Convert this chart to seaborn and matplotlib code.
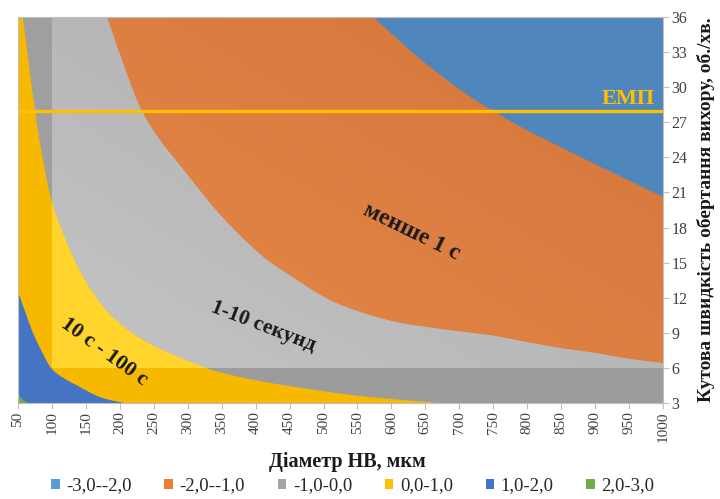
import numpy as np
import pandas as pd
import matplotlib
matplotlib.use("Agg")
import matplotlib.pyplot as plt
from matplotlib.colors import to_rgb
from matplotlib.patches import Polygon, Rectangle, Patch
import seaborn as sns

# Grid of the surface: particle diameter (um) and vortex angular speed (rev/min)
diameters = list(range(50, 1001, 50))
speeds = list(range(3, 37, 3))
x_labels = [str(d) for d in diameters]
y_labels = [str(s) for s in speeds]

# Contour boundaries between time bands (log10 of time), traced as (diameter, speed)
lvl_m2_x = [573, 605, 640, 675, 710, 748, 800, 848, 900, 950, 1000]
lvl_m2_y = [36.0, 34.3, 32.5, 30.9, 29.4, 28.0, 26.3, 24.9, 23.4, 22.0, 20.6]

lvl_m1_x = [181, 205, 232, 260, 290, 337, 362, 411, 461, 509, 558, 608, 657, 716,
            750, 800, 848, 897, 947, 1000]
lvl_m1_y = [36.0, 32.0, 28.0, 25.4, 23.2, 19.8, 18.2, 15.5, 13.5, 11.8, 10.7, 9.9, 9.45,
            9.0, 8.75, 8.2, 7.7, 7.3, 6.8, 6.4]

lvl_0_x = [57, 66, 75, 86, 100, 117, 135, 155, 185, 225, 260, 300, 337, 395, 455, 554, 671]
lvl_0_y = [36.0, 32.0, 28.0, 24.0, 20.2, 17.4, 15.0, 12.9, 10.6, 8.7, 7.6, 6.6, 5.8, 5.0,
           4.4, 3.6, 3.0]

lvl_1_x = [50, 60, 72, 86, 100, 118, 137, 171, 206]
lvl_1_y = [12.5, 10.9, 9.0, 7.3, 5.9, 5.1, 4.5, 3.5, 3.0]

lvl_2_x = [50, 55, 64]
lvl_2_y = [3.85, 3.4, 3.0]

band_labels = ["-3,0--2,0", "-2,0--1,0", "-1,0-0,0", "0,0-1,0", "1,0-2,0", "2,0-3,0"]
band_colors = ["#4F86BC", "#E07F3F", "#B4B4B4", "#F6B900", "#4674C5", "#6DAE47"]
legend_colors = ["#5B9BD5", "#ED7D31", "#A5A5A5", "#FFC000", "#4472C4", "#70AD47"]

emp_speed = 28

sns.set_theme(style="white")
plt.rcParams["font.family"] = ["Liberation Serif", "DejaVu Serif"]

fig = plt.figure(figsize=(7.2, 4.99), dpi=100)
ax = fig.add_axes([18 / 720, 1 - 403 / 499, 645 / 720, 386 / 499])

X0, X1 = diameters[0], diameters[-1]
Y0, Y1 = speeds[0], speeds[-1]
SX = 645.0 / (X1 - X0)   # px per diameter unit
SY = 386.0 / (Y1 - Y0)   # px per speed unit


def smooth(xs, ys, n=14):
    """Centripetal Catmull-Rom through the traced points (in screen proportions)."""
    p = np.column_stack([np.asarray(xs, float) * SX, np.asarray(ys, float) * SY])
    p = np.vstack([2 * p[0] - p[1], p, 2 * p[-1] - p[-2]])
    out = [p[1]]
    for i in range(1, len(p) - 2):
        p0, p1, p2, p3 = p[i - 1], p[i], p[i + 1], p[i + 2]
        t0 = 0.0
        t1 = t0 + np.linalg.norm(p1 - p0) ** 0.5
        t2 = t1 + np.linalg.norm(p2 - p1) ** 0.5
        t3 = t2 + np.linalg.norm(p3 - p2) ** 0.5
        for t in np.linspace(t1, t2, n)[1:]:
            a1 = (t1 - t) / (t1 - t0) * p0 + (t - t0) / (t1 - t0) * p1
            a2 = (t2 - t) / (t2 - t1) * p1 + (t - t1) / (t2 - t1) * p2
            a3 = (t3 - t) / (t3 - t2) * p2 + (t - t2) / (t3 - t2) * p3
            b1 = (t2 - t) / (t2 - t0) * a1 + (t - t0) / (t2 - t0) * a2
            b2 = (t3 - t) / (t3 - t1) * a2 + (t - t1) / (t3 - t1) * a3
            out.append((t2 - t) / (t2 - t1) * b1 + (t - t1) / (t2 - t1) * b2)
    out = np.array(out)
    return list(np.clip(out[:, 0] / SX, X0, X1)), list(np.clip(out[:, 1] / SY, Y0, Y1))


def region_below(xs, ys):
    sx, sy = smooth(xs, ys)
    pts = list(zip(sx, sy))
    if xs[-1] >= X1:
        pts.append((X1, Y0))
    pts.append((X0, Y0))
    if ys[0] >= Y1:
        pts.append((X0, Y1))
    return pts


def gradient(poly, c_a, c_b, z, wx=1.0, wy=1.0):
    """Linear colour ramp from the lower-left corner (c_a) to the upper-right (c_b)."""
    gx, gy = np.meshgrid(np.linspace(0, 1, 200), np.linspace(0, 1, 200))
    t = (wx * gx + wy * gy) / (wx + wy)
    ca, cb = np.array(to_rgb(c_a)), np.array(to_rgb(c_b))
    img = ca[None, None, :] * (1 - t[..., None]) + cb[None, None, :] * t[..., None]
    im = ax.imshow(img, extent=(X0, X1, Y0, Y1), origin="lower", aspect="auto",
                   zorder=z + 0.05, interpolation="bilinear")
    im.set_clip_path(poly)


def paint(pts, color, z, ramp=None, shades=()):
    poly = Polygon(pts, closed=True, facecolor=color, edgecolor="none", zorder=z)
    ax.add_patch(poly)
    if ramp is not None:
        gradient(poly, *ramp, z)
    for (rx0, ry0, rx1, ry1, c) in shades:
        r = Rectangle((rx0, ry0), rx1 - rx0, ry1 - ry0, facecolor=c,
                      edgecolor="none", zorder=z + 0.1)
        ax.add_patch(r)
        r.set_clip_path(poly)


# top band fills the whole area, each lower band is painted over it
ax.add_patch(Rectangle((X0, Y0), X1 - X0, Y1 - Y0, facecolor=band_colors[0],
                       edgecolor="none", zorder=1))

paint(region_below(lvl_m2_x, lvl_m2_y), band_colors[1], 2,
      ramp=("#EA8B4C", "#D3743A"))
paint(region_below(lvl_m1_x, lvl_m1_y), band_colors[2], 3,
      ramp=("#C6C6C6", "#ABABAB"),
      shades=[(X0, Y0, 100, Y1, "#9F9F9F"),
              (X0, Y0, X1, 6, "#9C9C9C")])
paint(region_below(lvl_0_x, lvl_0_y), band_colors[3], 4,
      shades=[(100, 6, X1, Y1, "#FFD42C")])
paint(region_below(lvl_1_x, lvl_1_y), band_colors[4], 5)
paint(region_below(lvl_2_x, lvl_2_y), band_colors[5], 6)

# electromagnetic field speed level
emp = pd.DataFrame({"d": [X0, X1], "w": [emp_speed, emp_speed]})
sns.lineplot(data=emp, x="d", y="w", color="#FFC000", linewidth=2.4, ax=ax, zorder=8)
ax.text(988, emp_speed + 0.6, "ЕМП", color="#FFC000", fontsize=16, fontweight="bold",
        ha="right", va="baseline", zorder=9)

# band annotations
ax.text(630, 17.6, "менше 1 с", fontsize=17, fontweight="bold", rotation=-26,
        ha="center", va="center", color="#1a1a1a", zorder=9)
ax.text(411, 9.5, "1-10 секунд", fontsize=15.5, fontweight="bold", rotation=-21,
        ha="center", va="center", color="#1a1a1a", zorder=9)
ax.text(177, 7.4, "10 с - 100 с", fontsize=15.5, fontweight="bold", rotation=-36,
        ha="center", va="center", color="#1a1a1a", zorder=9)

ax.set_xlim(X0, X1)
ax.set_ylim(Y0, Y1)
ax.set_xticks(diameters)
ax.set_xticklabels(x_labels, rotation=90, fontsize=11, color="#404040")
ax.set_yticks(speeds)
ax.set_yticklabels(y_labels, fontsize=11.5, color="#404040")
ax.yaxis.tick_right()
ax.yaxis.set_label_position("right")
ax.tick_params(axis="both", which="both", direction="out", length=4, width=0.8,
               color="#BFBFBF", pad=2)
ax.tick_params(axis="x", bottom=True)
ax.tick_params(axis="y", right=True, left=False)
for sp in ax.spines.values():
    sp.set_color("#BFBFBF")
    sp.set_linewidth(0.8)
    sp.set_zorder(10)

ax.set_xlabel("Діаметр НВ, мкм", fontsize=14.5, fontweight="bold", color="#1a1a1a")
ax.xaxis.set_label_coords(0.51, -0.128)
ax.set_ylabel("Кутова швидкість обертання вихору, об./хв.", fontsize=14,
              fontweight="bold", color="#1a1a1a", labelpad=7)
ax.grid(False)

handles = [Patch(facecolor=c, edgecolor="none") for c in legend_colors]
fig.legend(handles, band_labels, loc="center", bbox_to_anchor=(0.49, 0.026),
           ncol=6, frameon=False, fontsize=13.5, handlelength=0.45, handleheight=0.45,
           handletextpad=0.35, columnspacing=1.75)

fig.savefig("out.png", dpi=100)
